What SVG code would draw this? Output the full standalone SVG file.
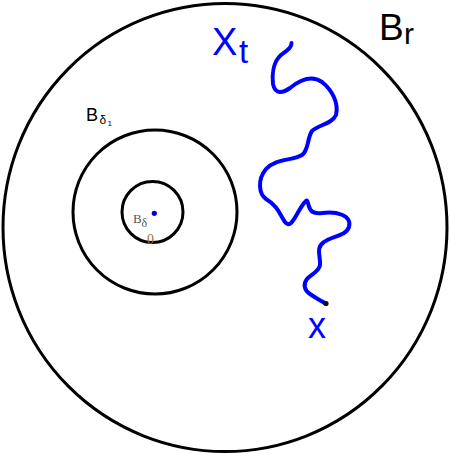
<svg xmlns="http://www.w3.org/2000/svg" width="450" height="454" viewBox="0 0 450 454">
<style>
.ring{fill:none;stroke:#000;stroke-width:3}
.sans{font-family:"Liberation Sans",Arial,sans-serif}
.serif{font-family:"Liberation Serif","Times New Roman",serif}
.walk{fill:none;stroke:#0000ff;stroke-width:4;stroke-linecap:round;stroke-linejoin:round}
</style>
<rect width="450" height="454" fill="#fff"/>
<g id="ball-r">
<ellipse class="ring" cx="225" cy="227.5" rx="222" ry="224"/>
<text class="sans" x="379" y="40" font-size="37" fill="#000">B</text>
<text class="sans" x="404" y="44" font-size="30" fill="#000">r</text>
</g>
<g id="ball-delta1">
<circle class="ring" cx="155" cy="212" r="82"/>
<text class="sans" x="86" y="121" font-size="18" fill="#000">B</text>
<text class="sans" x="99.5" y="124" font-size="12" fill="#000">δ</text>
<text class="sans" x="107.5" y="126" font-size="8" fill="#000">1</text>
</g>
<g id="ball-delta">
<circle class="ring" cx="152.5" cy="212" r="30.5"/>
<text class="serif" x="133" y="223" font-size="13" fill="#555">B</text>
<text class="serif" x="141.5" y="227" font-size="12" fill="#555">δ</text>
<text class="serif" x="147" y="243.5" font-size="14" fill="#a0703a">0</text>
<circle cx="154.3" cy="213.3" r="2.6" fill="#0000cc"/>
</g>
<g id="connectors">
<path class="walk" d="M291.5,43 C292,48 286,51 281,55 C273,62 272,75 273,84 C275,95 283,93 290,88 C300,80 312,75 322,82 C332,90 339,103 336,115 C332,124 318,125 312,131 C307,138 309,150 302,155 C292,161 276,158 266,169 C257,180 259,194 266,199 C278,206 280,215 285,222 C291,230 296,214 302,206 C306,200 307,199 308,203 C310,212 313,214 322,213 C336,211 352,215 349,227 C346,236 332,236 324,242 C315,248 321,257 320,265 C319,272 311,274 307,279 C303,284 304,290 310,294 C317,299 322,301 325.5,303.5"/>
<circle cx="326" cy="303.5" r="2.6" fill="#111"/>
</g>
<g id="label-xt">
<text class="sans" x="212" y="55" font-size="38" fill="#0000ff">X</text>
<text class="sans" x="239" y="63" font-size="33" fill="#0000ff">t</text>
</g>
<g id="label-x">
<text class="sans" x="308" y="338" font-size="36" fill="#0000ff">x</text>
</g>
</svg>
